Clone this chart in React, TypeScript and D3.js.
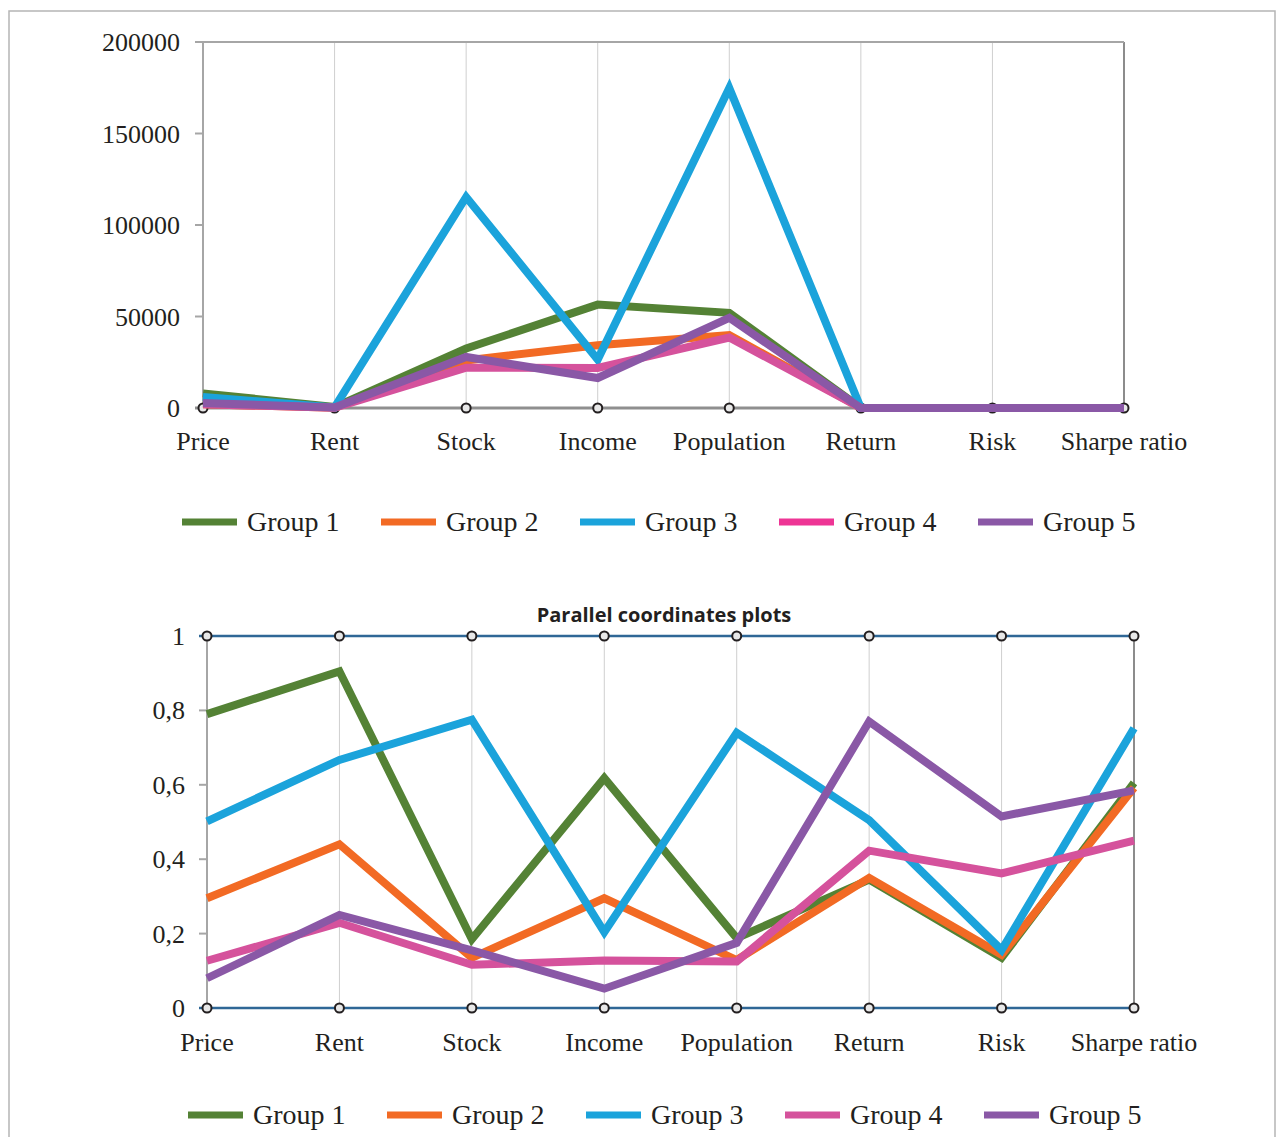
import React from "react";
import * as d3 from "d3";

const categories = ["Price", "Rent", "Stock", "Income", "Population", "Return", "Risk", "Sharpe ratio"];
const groups = ["Group 1", "Group 2", "Group 3", "Group 4", "Group 5"];
const lineColors = ["#548235", "#f26a24", "#1ba3db", "#d5529c", "#8a58a6"];
const topLegendColors = ["#548235", "#f26a24", "#1ba3db", "#ee3595", "#8a58a6"];

// raw values (top chart)
const rawG1 = [8000, 500, 32500, 56500, 52000, 0, 0, 0];
const rawG2 = [2000, 200, 26000, 34300, 39900, 0, 0, 0];
const rawG3 = [6000, 300, 115300, 26500, 174800, 0, 0, 0];
const rawG4 = [2000, 200, 22000, 21900, 38500, 0, 0, 0];
const rawG5 = [2700, 300, 27900, 16400, 49300, 0, 0, 0];
const rawTicks = [0, 50000, 100000, 150000, 200000];

// normalised values (bottom chart)
const normG1 = [0.79, 0.905, 0.185, 0.618, 0.188, 0.345, 0.135, 0.605];
const normG2 = [0.295, 0.44, 0.135, 0.295, 0.129, 0.35, 0.143, 0.592];
const normG3 = [0.502, 0.667, 0.775, 0.204, 0.74, 0.505, 0.156, 0.752];
const normG4 = [0.127, 0.229, 0.116, 0.128, 0.125, 0.423, 0.362, 0.45];
const normG5 = [0.08, 0.25, 0.155, 0.052, 0.175, 0.77, 0.515, 0.585];
const normTicks = [0, 0.2, 0.4, 0.6, 0.8, 1];
const normLabels = ["0", "0,2", "0,4", "0,6", "0,8", "1"];

const rawSeries = [rawG1, rawG2, rawG3, rawG4, rawG5];
const normSeries = [normG1, normG2, normG3, normG4, normG5];

const serif = "'Liberation Serif', 'Times New Roman', serif";

function Legend({ y, x0, colors }: { y: number; x0: number; colors: string[] }) {
  return (
    <g>
      {groups.map((g, i) => (
        <g key={g} transform={`translate(${x0 + i * 199},${y})`}>
          <rect x={0} y={-3.5} width={55} height={7} fill={colors[i]} />
          <text x={65} y={9} fontSize={28} fontFamily={serif} fill="#231f20">
            {g}
          </text>
        </g>
      ))}
    </g>
  );
}

function TopChart() {
  const x = d3.scalePoint<string>().domain(categories).range([203, 1124]);
  const y = d3.scaleLinear().domain([0, 200000]).range([408, 42]);
  const line = d3
    .line<number>()
    .x((_, i) => x(categories[i]) as number)
    .y((d) => y(d));
  return (
    <g>
      {categories.slice(1, -1).map((c) => (
        <line key={c} x1={x(c)} x2={x(c)} y1={y(200000)} y2={y(0)} stroke="#cfcfcf" strokeWidth={1} />
      ))}
      <line x1={x("Sharpe ratio")} x2={x("Sharpe ratio")} y1={y(200000)} y2={y(0)} stroke="#8c8c8c" strokeWidth={2} />
      <line x1={195} x2={x("Sharpe ratio")} y1={y(200000)} y2={y(200000)} stroke="#a6a6a6" strokeWidth={2} />
      <line x1={203} x2={203} y1={y(200000)} y2={y(0)} stroke="#a6a6a6" strokeWidth={2} />
      {rawTicks.map((t) => (
        <g key={t}>
          <line x1={195} x2={203} y1={y(t)} y2={y(t)} stroke="#a6a6a6" strokeWidth={2} />
          <text x={180} y={y(t) + 9} textAnchor="end" fontSize={26} fontFamily={serif} fill="#231f20">
            {t}
          </text>
        </g>
      ))}
      <line x1={195} x2={x("Sharpe ratio")} y1={y(0)} y2={y(0)} stroke="#8f8f8f" strokeWidth={3} />
      {categories.map((c) => (
        <g key={c}>
          <circle cx={x(c)} cy={y(0)} r={4.5} fill="#e8e8e8" stroke="#231f20" strokeWidth={2} />
          <text x={x(c)} y={450} textAnchor="middle" fontSize={26} fontFamily={serif} fill="#231f20">
            {c}
          </text>
        </g>
      ))}
      {rawSeries.map((s, i) => (
        <path key={i} d={line(s) ?? ""} fill="none" stroke={lineColors[i]} strokeWidth={8} strokeLinejoin="miter" />
      ))}
    </g>
  );
}

function BottomChart() {
  const x = d3.scalePoint<string>().domain(categories).range([207, 1134]);
  const y = d3.scaleLinear().domain([0, 1]).range([1008, 636]);
  const line = d3
    .line<number>()
    .x((_, i) => x(categories[i]) as number)
    .y((d) => y(d));
  return (
    <g>
      <text x={664} y={622} textAnchor="middle" fontSize={20} fontWeight="bold" fontFamily="'Open Sans', 'Noto Sans', sans-serif" fill="#231f20">
        Parallel coordinates plots
      </text>
      {categories.slice(1, -1).map((c) => (
        <line key={c} x1={x(c)} x2={x(c)} y1={y(1)} y2={y(0)} stroke="#cfcfcf" strokeWidth={1} />
      ))}
      <line x1={x("Sharpe ratio")} x2={x("Sharpe ratio")} y1={y(1)} y2={y(0)} stroke="#8c8c8c" strokeWidth={2} />
      <line x1={207} x2={207} y1={y(1)} y2={y(0)} stroke="#a6a6a6" strokeWidth={2} />
      {normTicks.map((t, i) => (
        <g key={t}>
          <line x1={199} x2={207} y1={y(t)} y2={y(t)} stroke="#a6a6a6" strokeWidth={2} />
          <text x={185} y={y(t) + 9} textAnchor="end" fontSize={26} fontFamily={serif} fill="#231f20">
            {normLabels[i]}
          </text>
        </g>
      ))}
      {[0, 1].map((t) => (
        <line key={t} x1={199} x2={x("Sharpe ratio")} y1={y(t)} y2={y(t)} stroke="#2f6796" strokeWidth={2.5} />
      ))}
      {categories.map((c) => (
        <g key={c}>
          <circle cx={x(c)} cy={y(1)} r={4.5} fill="#e8e8e8" stroke="#231f20" strokeWidth={2} />
          <circle cx={x(c)} cy={y(0)} r={4.5} fill="#e8e8e8" stroke="#231f20" strokeWidth={2} />
          <text x={x(c)} y={1051} textAnchor="middle" fontSize={26} fontFamily={serif} fill="#231f20">
            {c}
          </text>
        </g>
      ))}
      {normSeries.map((s, i) => (
        <path key={i} d={line(s) ?? ""} fill="none" stroke={lineColors[i]} strokeWidth={8} strokeLinejoin="miter" />
      ))}
    </g>
  );
}

export default function App() {
  return (
    <div style={{ position: "absolute", left: 0, top: 0 }}>
      <svg width={1277} height={1137} style={{ display: "block", background: "#fff" }}>
        <rect x={9} y={11} width={1266} height={1140} fill="none" stroke="#b5b5b5" strokeWidth={1.5} />
        <TopChart />
        <Legend y={522} x0={182} colors={topLegendColors} />
        <BottomChart />
        <Legend y={1115} x0={188} colors={lineColors} />
      </svg>
    </div>
  );
}
